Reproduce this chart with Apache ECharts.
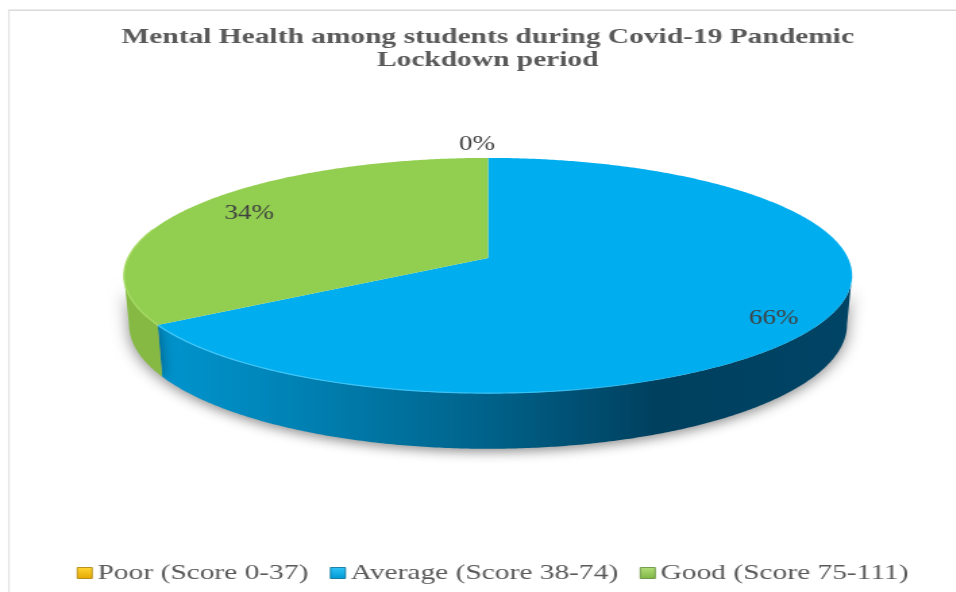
<!DOCTYPE html>
<html>
<head>
<meta charset="utf-8">
<script src="https://cdn.jsdelivr.net/npm/echarts@6/dist/echarts.min.js"></script>
<style>
html,body{margin:0;padding:0;background:#fff;overflow:hidden}
#wrap{width:956px;height:592px;overflow:hidden;position:relative}
#c{height:592px;transform-origin:0 0;position:absolute;left:0;top:0}
</style>
</head>
<body>
<div id="wrap"><div id="c"></div></div>
<script>
const categories = ['Poor (Score 0-37)', 'Average (Score 38-74)', 'Good (Score 75-111)'];
const values = [0, 66, 34];
const titleText = 'Mental Health among students during Covid-19 Pandemic\nLockdown period';

// the reference is stretched horizontally: the whole chart is laid out narrower and stretched by CSS
const S = 1.35;
const el = document.getElementById('c');
el.style.width = (956 / S) + 'px';
el.style.transform = 'scaleX(' + S + ')';

const topRing = {a: 360, b: 115, y0: 258};
const baseRing = {a: 355, b: 121.5, y0: 306};
const CX = 488, K = 0.149;
const total = values.reduce((p, v) => p + v, 0);
// angles where the tilted disc's outline is widest: the wall is visible between them
const wallFrom = Math.acos(-K) * 180 / Math.PI;
const wallTo = 360 - wallFrom;

function project(deg, r, ring) {
  const t = deg * Math.PI / 180;
  const X = r * Math.sin(t), Y = r * Math.cos(t), d = 1 + K * Y;
  return [(CX + ring.a * X / d) / S, ring.y0 - ring.b * Y / d];
}
function arc(from, to, ring) {
  const pts = [], n = Math.max(2, Math.ceil(Math.abs(to - from) * 2));
  for (let i = 0; i <= n; i++) pts.push(project(from + (to - from) * i / n, 1, ring));
  return pts;
}
function lin(stops) {
  return new echarts.graphic.LinearGradient(0, 0, 1, 0,
    stops.map(s => ({offset: s[0], color: s[1]})));
}
const looks = [
  {top: '#ffc000', side: '#bf9000', rim: '#ffd966'},
  {top: '#00aeef',
   side: lin([[0, '#0095cf'], [0.2, '#0082b4'], [0.46, '#00648c'], [0.72, '#00405f'], [1, '#004465']]),
   rim: lin([[0, '#45c8f8'], [0.55, '#35c0f5'], [0.8, 'rgba(60,190,240,0)'], [1, 'rgba(60,190,240,0)']])},
  {top: '#92cf50', side: '#86b944', rim: '#a8dc66'}
];
const labelShift = [[-11, -13], [0, 11], [14, 0]];
const legendLooks = [
  ['#ffd633', '#e6a800', '#a67c00'],
  ['#30c4f7', '#0098d4', '#00688f'],
  ['#b2de7a', '#7fb544', '#5c8a30']
];

function drawSlice(index) {
  return function (params, api) {
    const v = api.value(0);
    let before = 0;
    for (let i = 0; i < index; i++) before += values[i];
    const a0 = before / total * 360, a1 = (before + v) / total * 360;
    const mid = (a0 + a1) / 2;
    const look = looks[index];
    const children = [];
    if (v > 0) {
      const w0 = Math.max(a0, wallFrom), w1 = Math.min(a1, wallTo);
      if (w1 > w0) children.push({
        type: 'polygon', z2: 1,
        shape: {points: arc(w0, w1, topRing).concat(arc(w1, w0, baseRing))},
        style: {fill: look.side, shadowBlur: 12, shadowColor: 'rgba(0,0,0,0.45)', shadowOffsetY: 3}
      });
      children.push({
        type: 'polygon', z2: 2,
        shape: {points: [project(0, 0, topRing)].concat(arc(a0, a1, topRing))},
        style: {fill: look.top}
      });
      const r0 = Math.max(a0, 90), r1 = Math.min(a1, 285);
      if (r1 > r0) children.push({
        type: 'polyline', z2: 3,
        shape: {points: arc(r0, r1, topRing)},
        style: {fill: null, stroke: look.rim, lineWidth: 1.2}
      });
    }
    const r = v > 0 ? 0.85 : 1;
    const p = project(mid, r, topRing);
    children.push({
      type: 'text', z2: 5,
      x: p[0] + labelShift[index][0] / S,
      y: p[1] + labelShift[index][1],
      style: {
        text: Math.round(v / total * 100) + '%',
        fill: '#404040',
        font: '20px "Liberation Serif"',
        align: 'center', verticalAlign: 'middle'
      }
    });
    return {type: 'group', children};
  };
}

const chart = echarts.init(el, null, {renderer: 'canvas'});
chart.setOption({
  animation: false,
  backgroundColor: '#ffffff',
  title: {
    text: titleText,
    left: 481 / S, top: 21, textAlign: 'center',
    textStyle: {
      fontFamily: 'Liberation Serif', fontWeight: 'bold', fontSize: 21.8,
      lineHeight: 23, color: '#595959'
    }
  },
  legend: {
    left: 70 / S, top: 557,
    itemWidth: 11, itemHeight: 11, itemGap: 16,
    textStyle: {
      fontFamily: 'Liberation Serif', fontSize: 21.8, color: '#595959',
      padding: [0, 0, 0, -1]
    },
    data: categories.map((name, i) => ({
      name,
      icon: 'rect',
      itemStyle: {
        color: new echarts.graphic.LinearGradient(0, 0, 0, 1, [
          {offset: 0, color: legendLooks[i][0]},
          {offset: 1, color: legendLooks[i][1]}
        ]),
        borderColor: legendLooks[i][2], borderWidth: 0.8
      }
    }))
  },
  graphic: [{
    type: 'rect', silent: true,
    shape: {x: 8 / S, y: 9.5, width: 948 / S, height: 1.5},
    style: {fill: '#d9d9d9'}
  }, {
    type: 'rect', silent: true,
    shape: {x: 8 / S, y: 9.5, width: 1.6 / S, height: 582.5},
    style: {fill: '#e3e3e3'}
  }],
  series: categories.map((name, i) => ({
    type: 'custom', name,
    coordinateSystem: 'none',
    silent: true,
    itemStyle: {color: looks[i].top},
    renderItem: drawSlice(i),
    encode: {value: 0},
    data: [[values[i]]]
  }))
});
</script>
</body>
</html>
